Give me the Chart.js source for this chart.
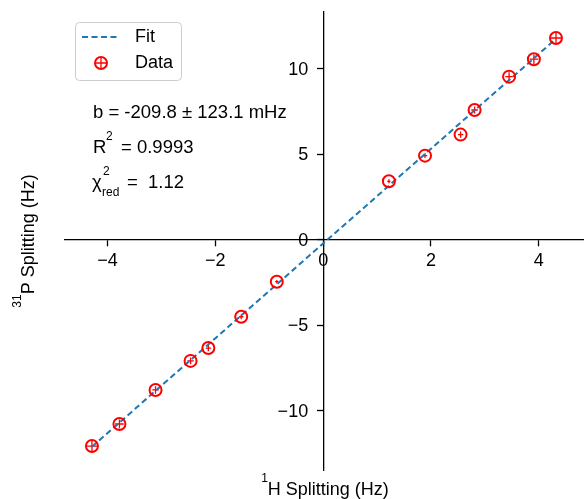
<!DOCTYPE html>
<html>
<head>
<meta charset="utf-8">
<script src="https://cdn.jsdelivr.net/npm/chart.js@4/dist/chart.umd.min.js"></script>
<style>
  body { margin: 0; background: #fff; }
  #wrap { width: 584px; height: 499px; }
</style>
</head>
<body>
<div id="wrap"><canvas id="plot" width="584" height="499"></canvas></div>
<script>
// values
const hSplit = [-4.29, -3.78, -3.11, -2.46, -2.13, -1.52, -0.86, 1.22, 1.89, 2.55, 2.81, 3.45, 3.91, 4.32];
const pSplit = [-12.05, -10.76, -8.77, -7.07, -6.32, -4.49, -2.44, 3.43, 4.93, 6.16, 7.60, 9.55, 10.57, 11.81];
const hErr = [0.10, 0.08, 0.06, 0.06, 0.05, 0.04, 0.03, 0.03, 0.04, 0.05, 0.06, 0.07, 0.08, 0.10];
const pErr = [0.30, 0.26, 0.22, 0.20, 0.18, 0.14, 0.10, 0.12, 0.14, 0.18, 0.20, 0.25, 0.28, 0.32];
const fitX = [-4.29, 4.32];
const fitY = [-12.09, 11.76];
const xTicks = [-4, -2, 0, 2, 4];
const yTicks = [-10, -5, 0, 5, 10];
const statLines = ["b = -209.8 ± 123.1 mHz", "R", "χ"];

const FONT = "'Liberation Sans', Arial, sans-serif";
const RED = "#ff0000";
const BLUE = "#1f77b4";

function minusSign(v) {
  return String(v).replace("-", "\u2212");
}

// draws error bars for the Data set
const errorBars = {
  id: "errorBars",
  beforeDatasetsDraw(chart) {
    const { ctx, scales } = chart;
    ctx.save();
    ctx.strokeStyle = RED;
    ctx.lineWidth = 1.3;
    hSplit.forEach((x, i) => {
      const px = scales.x.getPixelForValue(x);
      const py = scales.y.getPixelForValue(pSplit[i]);
      ctx.beginPath();
      ctx.moveTo(scales.x.getPixelForValue(x - hErr[i]), py);
      ctx.lineTo(scales.x.getPixelForValue(x + hErr[i]), py);
      ctx.moveTo(px, scales.y.getPixelForValue(pSplit[i] - pErr[i]));
      ctx.lineTo(px, scales.y.getPixelForValue(pSplit[i] + pErr[i]));
      ctx.stroke();
    });
    ctx.restore();
  },
};

// chart.js puts labels of a centred y axis right on the line, so draw them here
const yLabels = {
  id: "yLabels",
  afterDraw(chart) {
    const { ctx, scales } = chart;
    const axisX = scales.x.getPixelForValue(0);
    ctx.save();
    ctx.fillStyle = "#000";
    ctx.font = "18px " + FONT;
    ctx.textAlign = "right";
    ctx.textBaseline = "middle";
    scales.y.ticks.forEach((t) => {
      ctx.fillText(minusSign(t.value), axisX - 15, scales.y.getPixelForValue(t.value) + 1);
    });
    ctx.restore();
  },
};

// text with a superscript in front, left aligned
function drawSup(ctx, sup, main, x, y, big, small) {
  ctx.font = small + "px " + FONT;
  ctx.fillText(sup, x, y - 13);
  const w = ctx.measureText(sup).width;
  ctx.font = big + "px " + FONT;
  ctx.fillText(main, x + w, y);
  return w + ctx.measureText(main).width;
}

const decorations = {
  id: "decorations",
  afterDraw(chart) {
    const ctx = chart.ctx;
    ctx.save();
    ctx.fillStyle = "#000";
    ctx.textBaseline = "alphabetic";
    ctx.textAlign = "left";

    // axis titles
    ctx.font = "12px " + FONT;
    const s1 = ctx.measureText("1").width;
    ctx.font = "18px " + FONT;
    const xt = "H Splitting (Hz)";
    const xw = s1 + ctx.measureText(xt).width;
    drawSup(ctx, "1", xt, 325 - xw / 2, 495, 18, 12);

    ctx.save();
    ctx.translate(34, 241);
    ctx.rotate(-Math.PI / 2);
    ctx.font = "12px " + FONT;
    const s31 = ctx.measureText("31").width;
    ctx.font = "18px " + FONT;
    const yt = "P Splitting (Hz)";
    const yw = s31 + ctx.measureText(yt).width;
    drawSup(ctx, "31", yt, -yw / 2, 0, 18, 12);
    ctx.restore();

    // fit statistics
    ctx.font = "18.5px " + FONT;
    ctx.fillText(statLines[0], 93, 118);
    ctx.fillText(statLines[1], 93, 153);
    ctx.font = "12px " + FONT;
    ctx.fillText("2", 106, 140);
    ctx.font = "18.5px " + FONT;
    ctx.fillText("= 0.9993", 121, 153);
    ctx.fillText(statLines[2], 92, 188);
    ctx.font = "12px " + FONT;
    ctx.fillText("2", 103, 175);
    ctx.fillText("red", 102, 196);
    ctx.font = "18.5px " + FONT;
    ctx.fillText("=  1.12", 127, 188);

    // legend
    ctx.beginPath();
    ctx.roundRect(75.5, 22.5, 106, 58, 4);
    ctx.fillStyle = "rgba(255,255,255,0.8)";
    ctx.fill();
    ctx.strokeStyle = "#cccccc";
    ctx.lineWidth = 1;
    ctx.stroke();

    ctx.strokeStyle = BLUE;
    ctx.lineWidth = 2;
    ctx.setLineDash([6, 3.5]);
    ctx.beginPath();
    ctx.moveTo(82, 37);
    ctx.lineTo(119, 37);
    ctx.stroke();
    ctx.setLineDash([]);

    ctx.strokeStyle = RED;
    ctx.lineWidth = 2;
    ctx.beginPath();
    ctx.arc(101, 63, 6, 0, Math.PI * 2);
    ctx.stroke();
    ctx.lineWidth = 1.3;
    ctx.beginPath();
    ctx.moveTo(96, 63); ctx.lineTo(106, 63);
    ctx.moveTo(101, 58); ctx.lineTo(101, 68);
    ctx.stroke();

    ctx.fillStyle = "#000";
    ctx.font = "18px " + FONT;
    ctx.textBaseline = "middle";
    ctx.fillText("Fit", 135, 37);
    ctx.fillText("Data", 135, 63);
    ctx.restore();
  },
};

const axisStyle = {
  border: { display: true, color: "#000", width: 1.3 },
  grid: { display: true, drawOnChartArea: false, drawTicks: true, tickLength: 6, tickWidth: 1.3, tickColor: "#000" },
};

// axes sit on zero inside the plot, so they should not eat any layout room
function noPadding(axis) {
  axis.paddingLeft = 0;
  axis.paddingRight = 0;
  axis.paddingTop = 0;
  axis.paddingBottom = 0;
}

new Chart(document.getElementById("plot"), {
  type: "scatter",
  data: {
    datasets: [
      {
        label: "Fit",
        data: fitX.map((x, i) => ({ x: x, y: fitY[i] })),
        showLine: true,
        borderColor: BLUE,
        borderWidth: 2,
        borderDash: [6, 3.5],
        pointRadius: 0,
        order: 2,
      },
      {
        label: "Data",
        data: hSplit.map((x, i) => ({ x: x, y: pSplit[i] })),
        pointRadius: 6,
        borderColor: RED,
        backgroundColor: "rgba(0,0,0,0)",
        borderWidth: 2,
        order: 1,
      },
    ],
  },
  options: {
    responsive: false,
    animation: false,
    layout: { autoPadding: false, padding: { left: 65, right: 0, top: 12, bottom: 29 } },
    plugins: { legend: { display: false }, tooltip: { enabled: false } },
    scales: {
      x: {
        type: "linear",
        min: -4.79,
        max: 4.84,
        position: { y: 0 },
        afterBuildTicks: (axis) => { axis.ticks = xTicks.map((v) => ({ value: v })); },
        afterFit: noPadding,
        ticks: { color: "#000", padding: 4, font: { family: FONT, size: 18 }, callback: (v) => minusSign(v), maxRotation: 0 },
        ...axisStyle,
      },
      y: {
        type: "linear",
        min: -13.45,
        max: 13.33,
        position: { x: 0 },
        afterBuildTicks: (axis) => { axis.ticks = yTicks.map((v) => ({ value: v })); },
        afterFit: noPadding,
        ticks: { display: false, font: { family: FONT, size: 18 } },
        ...axisStyle,
      },
    },
  },
  plugins: [errorBars, yLabels, decorations],
});
</script>
</body>
</html>
